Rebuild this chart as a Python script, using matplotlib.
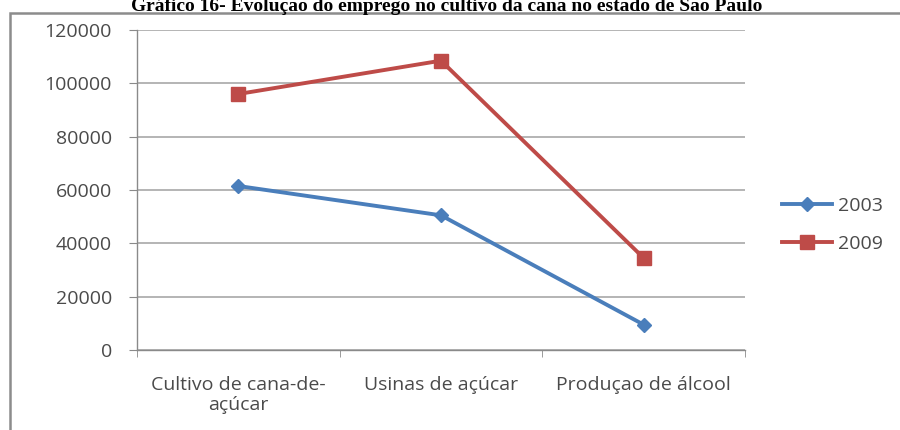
import matplotlib
matplotlib.use("Agg")
import matplotlib.pyplot as plt
from matplotlib.patches import Rectangle

# data
categorias = ["Cultivo de cana-de-\naçúcar", "Usinas de açúcar", "Produçao de álcool"]
anos = ["2003", "2009"]
emprego_2003 = [61500, 50500, 9500]
emprego_2009 = [96000, 108500, 34500]
yticks = [0, 20000, 40000, 60000, 80000, 100000, 120000]

azul = "#4A7EBB"
vermelho = "#BE4B48"
cinza = "#8a8a8a"
grade = "#a8a8a8"
texto = "#4a4a4a"

plt.rcParams["font.family"] = ["Open Sans", "DejaVu Sans"]

fig = plt.figure(figsize=(9, 4.3), dpi=100)
fig.patch.set_facecolor("white")

# moldura do grafico
fig.patches.append(Rectangle((10 / 900, -0.01), 1.0, 1 - 13 / 430 + 0.01,
                             transform=fig.transFigure, fill=False,
                             edgecolor="#8c8c8c", linewidth=1.8))

fig.text(447 / 900, 1 - 11 / 430,
         "Gráfico 16- Evolução do emprego no cultivo da cana no estado de São Paulo",
         ha="center", va="baseline", fontsize=14, fontweight="bold",
         family=["Liberation Serif", "DejaVu Serif"])

ax = fig.add_axes([137 / 900, 1 - 350 / 430, (745 - 137) / 900, 320 / 430])
x = range(len(categorias))
ax.plot(x, emprego_2003, color=azul, linewidth=2.8, marker="D", markersize=7,
        label=anos[0])
ax.plot(x, emprego_2009, color=vermelho, linewidth=2.8, marker="s", markersize=10,
        label=anos[1])

ax.set_xlim(-0.5, len(categorias) - 0.5)
ax.set_ylim(0, 120000)
ax.set_yticks(yticks)
ax.set_yticklabels([str(v) for v in yticks])
ax.set_xticks(list(x))
ax.set_xticklabels(categorias, linespacing=1.15)
ax.set_xticks([-0.5, 0.5, 1.5, 2.5], minor=True)
ax.tick_params(axis="x", which="major", length=0, pad=19, labelsize=14,
               labelcolor=texto)
ax.tick_params(axis="x", which="minor", length=5, color=cinza, direction="out")
ax.tick_params(axis="y", length=6, color=cinza, labelsize=14,
               labelcolor=texto, pad=12)

ax.yaxis.grid(True, color=grade, linewidth=1.2)
ax.set_axisbelow(True)
for s in ["top", "right"]:
    ax.spines[s].set_visible(False)
for s in ["left", "bottom"]:
    ax.spines[s].set_color(cinza)
    ax.spines[s].set_linewidth(1.0)

leg = ax.legend(loc="center left", bbox_to_anchor=(764 / 900, 1 - 225 / 430),
                bbox_transform=fig.transFigure, frameon=False, fontsize=14,
                handlelength=2.6, labelspacing=1.0, handletextpad=0.3)
for t in leg.get_texts():
    t.set_color(texto)

fig.savefig("out.png", dpi=100, facecolor="white")
